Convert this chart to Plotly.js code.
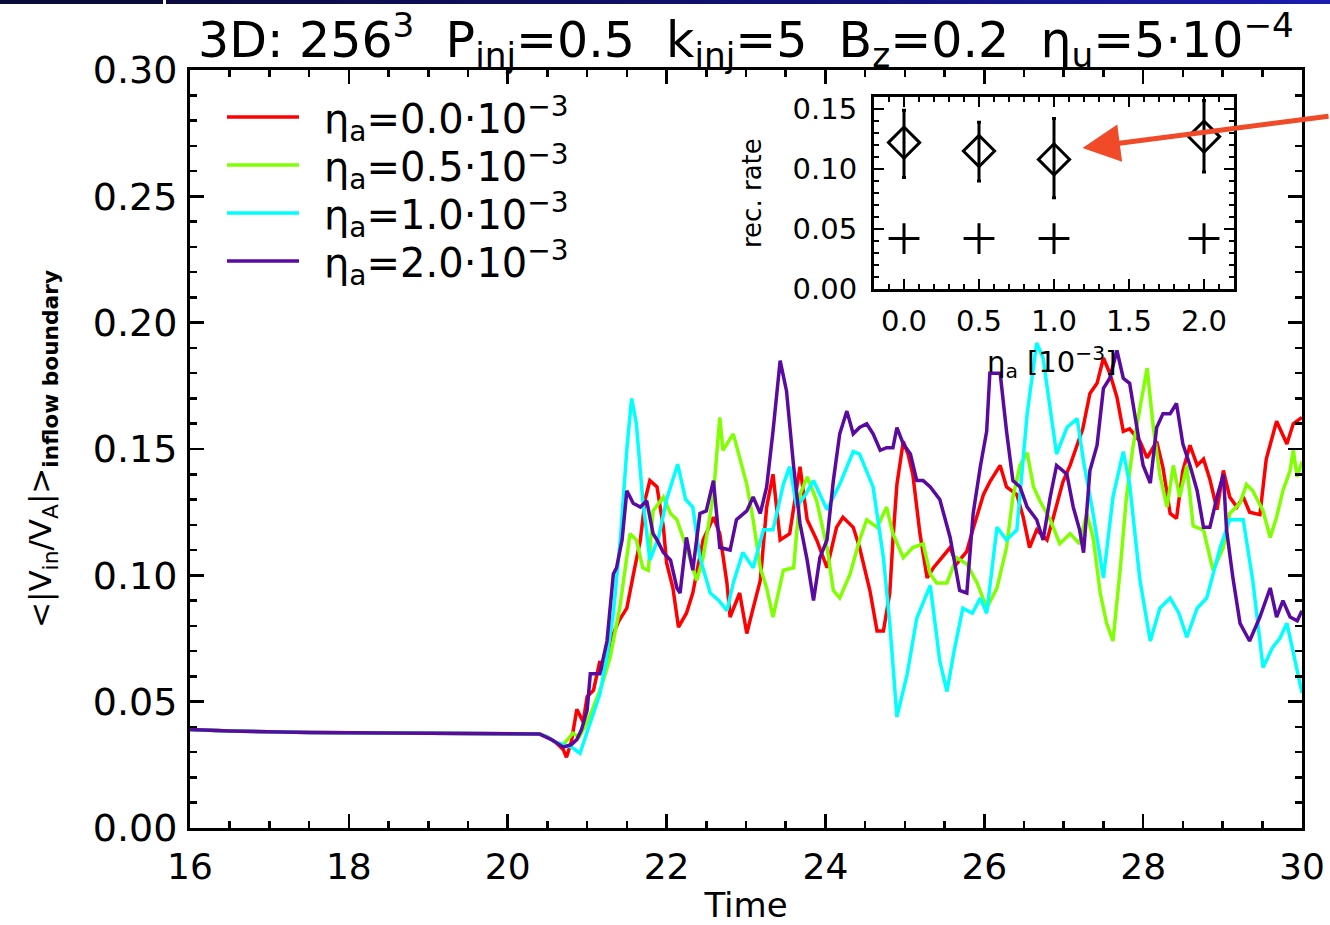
<!DOCTYPE html>
<html>
<head>
<meta charset="utf-8">
<script src="https://cdn.plot.ly/plotly-3.0.1.min.js"></script>
<style>
html,body{margin:0;padding:0;background:#fff;overflow:hidden;}
#chart{position:absolute;left:0;top:0;width:1330px;height:925px;}
#bar1{position:absolute;left:0;top:0;width:163px;height:4px;background:#0b0b38;z-index:5;}
#bar2{position:absolute;left:166px;top:0;width:1164px;height:4px;background:linear-gradient(to right,#0b0b40,#12127a 60%,#1c1cb0);z-index:5;}
</style>
</head>
<body>
<div id="chart"></div>
<div id="bar1"></div>
<div id="bar2"></div>
<script>
// ---------- data ----------
const flatT = [16, 16.5, 17.5, 19, 20, 20.4];
const flatV = [0.039, 0.0384, 0.0378, 0.0375, 0.0373, 0.0372];

const redT = [20.5,20.6,20.7,20.74,20.8,20.87,20.95,21.0,21.08,21.16,21.22,21.29,21.4,21.5,21.58,21.67,21.73,21.79,21.88,21.96,22.0,22.08,22.15,22.25,22.33,22.46,22.59,22.67,22.76,22.8,22.92,23.01,23.09,23.18,23.26,23.34,23.43,23.55,23.68,23.77,23.89,24.02,24.14,24.22,24.35,24.43,24.56,24.65,24.73,24.81,24.85,24.9,24.98,25.04,25.1,25.19,25.28,25.36,25.44,25.57,25.65,25.78,25.86,25.99,26.07,26.2,26.28,26.41,26.49,26.57,26.66,26.79,26.87,26.99,27.08,27.17,27.24,27.33,27.42,27.5,27.58,27.67,27.75,27.83,27.96,28.05,28.17,28.25,28.34,28.42,28.5,28.59,28.68,28.76,28.84,28.93,29.01,29.09,29.18,29.26,29.34,29.47,29.55,29.68,29.81,29.89,30.0];
const redV = [0.036,0.034,0.031,0.028,0.034,0.047,0.042,0.052,0.0545,0.066,0.062,0.074,0.082,0.087,0.1,0.114,0.13,0.1375,0.135,0.119,0.105,0.095,0.0795,0.085,0.093,0.114,0.123,0.1165,0.097,0.0835,0.093,0.077,0.087,0.098,0.127,0.14,0.114,0.1165,0.143,0.122,0.114,0.103,0.119,0.123,0.119,0.111,0.094,0.078,0.078,0.093,0.114,0.136,0.153,0.148,0.14,0.1165,0.099,0.103,0.106,0.111,0.1045,0.1095,0.1185,0.132,0.137,0.1435,0.135,0.132,0.123,0.111,0.118,0.114,0.123,0.137,0.1435,0.1515,0.158,0.172,0.176,0.186,0.18,0.1705,0.157,0.158,0.153,0.1465,0.153,0.1425,0.1245,0.1225,0.1415,0.1515,0.1435,0.146,0.138,0.126,0.1415,0.131,0.127,0.131,0.125,0.124,0.146,0.161,0.152,0.16,0.1625];

const greenT = [20.5,20.6,20.7,20.82,20.9,21.0,21.08,21.18,21.29,21.41,21.54,21.62,21.7,21.77,21.83,21.96,22.05,22.13,22.25,22.38,22.46,22.59,22.67,22.71,22.84,22.92,23.01,23.09,23.18,23.26,23.34,23.47,23.6,23.68,23.77,23.89,24.02,24.1,24.18,24.31,24.43,24.52,24.65,24.77,24.85,24.98,25.1,25.23,25.32,25.4,25.53,25.65,25.78,25.91,26.03,26.16,26.28,26.36,26.45,26.54,26.62,26.7,26.83,26.95,27.08,27.2,27.29,27.37,27.46,27.54,27.62,27.71,27.79,27.87,27.96,28.05,28.13,28.21,28.3,28.38,28.46,28.55,28.63,28.76,28.88,29.01,29.09,29.22,29.3,29.38,29.51,29.6,29.68,29.76,29.85,29.89,29.94,30.0];
const greenV = [0.036,0.034,0.033,0.0375,0.036,0.042,0.048,0.056,0.0675,0.087,0.1165,0.114,0.103,0.102,0.1255,0.131,0.1245,0.122,0.111,0.098,0.107,0.132,0.1625,0.1495,0.156,0.1465,0.136,0.122,0.103,0.095,0.0835,0.102,0.103,0.132,0.139,0.1295,0.111,0.094,0.091,0.1005,0.114,0.122,0.119,0.127,0.1165,0.107,0.111,0.1125,0.1005,0.097,0.097,0.107,0.1045,0.097,0.087,0.095,0.111,0.131,0.1435,0.1485,0.135,0.1295,0.122,0.1125,0.1165,0.1125,0.1245,0.115,0.093,0.081,0.074,0.102,0.131,0.1505,0.1665,0.182,0.158,0.14,0.127,0.1435,0.131,0.1435,0.1195,0.118,0.102,0.111,0.1245,0.1285,0.136,0.1335,0.1255,0.115,0.123,0.1335,0.1415,0.1495,0.139,0.145];

const cyanT = [20.5,20.6,20.7,20.8,20.91,21.0,21.04,21.16,21.25,21.33,21.42,21.5,21.56,21.62,21.7,21.79,21.9,22.0,22.14,22.24,22.33,22.42,22.55,22.66,22.76,22.84,22.96,23.09,23.22,23.34,23.47,23.55,23.64,23.75,23.85,24.02,24.18,24.35,24.43,24.6,24.73,24.81,24.9,25.03,25.15,25.32,25.44,25.53,25.62,25.73,25.85,25.95,26.03,26.16,26.28,26.41,26.54,26.66,26.74,26.91,27.04,27.17,27.25,27.37,27.5,27.62,27.75,27.83,27.96,28.09,28.21,28.34,28.45,28.55,28.68,28.8,28.97,29.09,29.26,29.38,29.51,29.63,29.72,29.81,29.9,30.0];
const cyanV = [0.036,0.034,0.033,0.032,0.0296,0.038,0.0415,0.053,0.068,0.085,0.115,0.15,0.17,0.16,0.13,0.106,0.115,0.13,0.144,0.13,0.127,0.107,0.093,0.09,0.086,0.097,0.109,0.103,0.118,0.118,0.136,0.143,0.127,0.132,0.1375,0.126,0.136,0.149,0.148,0.135,0.107,0.081,0.044,0.061,0.083,0.096,0.066,0.054,0.07,0.087,0.085,0.091,0.085,0.119,0.114,0.118,0.164,0.192,0.186,0.148,0.1585,0.162,0.145,0.1245,0.099,0.131,0.149,0.136,0.098,0.074,0.087,0.091,0.085,0.0755,0.087,0.091,0.111,0.122,0.122,0.098,0.0635,0.0715,0.075,0.081,0.068,0.0535];

const purpleT = [20.55,20.7,20.8,20.87,20.93,21.0,21.04,21.16,21.25,21.33,21.37,21.44,21.5,21.58,21.67,21.75,21.83,21.88,21.96,22.05,22.13,22.17,22.25,22.33,22.42,22.5,22.59,22.67,22.8,22.88,23.01,23.09,23.18,23.26,23.34,23.43,23.51,23.6,23.68,23.77,23.85,23.93,24.02,24.1,24.18,24.27,24.35,24.43,24.52,24.6,24.69,24.77,24.85,24.9,24.98,25.07,25.15,25.23,25.32,25.44,25.57,25.69,25.78,25.86,25.95,26.03,26.07,26.2,26.28,26.36,26.45,26.54,26.66,26.74,26.83,26.91,27.04,27.12,27.2,27.25,27.33,27.42,27.5,27.58,27.67,27.75,27.83,27.92,28.0,28.09,28.17,28.25,28.34,28.42,28.5,28.59,28.68,28.76,28.84,28.93,29.01,29.05,29.13,29.22,29.34,29.47,29.51,29.6,29.68,29.76,29.85,29.94,30.0];
const purpleV = [0.035,0.032,0.033,0.035,0.039,0.0466,0.061,0.061,0.074,0.1005,0.103,0.114,0.1335,0.1285,0.127,0.1295,0.1165,0.114,0.109,0.106,0.095,0.093,0.115,0.102,0.1245,0.1255,0.1375,0.111,0.11,0.122,0.1255,0.131,0.1245,0.135,0.157,0.185,0.173,0.143,0.1205,0.106,0.09,0.107,0.114,0.1375,0.156,0.165,0.156,0.1585,0.16,0.156,0.1495,0.1505,0.1505,0.1585,0.152,0.148,0.1375,0.1375,0.135,0.13,0.115,0.094,0.093,0.1245,0.143,0.157,0.18,0.18,0.157,0.1375,0.135,0.127,0.122,0.114,0.131,0.1435,0.14,0.127,0.118,0.109,0.1415,0.1515,0.174,0.178,0.189,0.178,0.176,0.1585,0.1435,0.1365,0.1585,0.164,0.164,0.168,0.152,0.1435,0.1335,0.119,0.119,0.131,0.14,0.118,0.099,0.081,0.074,0.0835,0.087,0.095,0.0835,0.09,0.0835,0.082,0.086];

const seriesNames = ['\u03b7a=0.0\u00b710-3','\u03b7a=0.5\u00b710-3','\u03b7a=1.0\u00b710-3','\u03b7a=2.0\u00b710-3'];
const legendLabels = ['0.0','0.5','1.0','2.0'];
const seriesColors = ['#ff0000','#80ff00','#00ffff','#5a0aa0'];

// inset: reconnection rate vs eta_a
const insetEta = [0.0, 0.5, 1.0, 2.0];
const insetRate = [0.122, 0.115, 0.108, 0.127];
const insetErrUp = [0.027, 0.024, 0.034, 0.030];
const insetErrDown = [0.029, 0.025, 0.032, 0.0295];
const insetCross = [0.042, 0.042, 0.042, 0.042];

const xTickStep = 2;
const yTickStep = 0.05;
const insetXTicks = [0, 0.5, 1.0, 1.5, 2.0];

// ---------- build ----------
const FONT = 'DejaVu Sans, Liberation Sans, Arial, sans-serif';
const seriesT = [redT, greenT, cyanT, purpleT];
const seriesV = [redV, greenV, cyanV, purpleV];

const traces = seriesT.map((t, i) => ({
  x: flatT.concat(t),
  y: flatV.concat(seriesV[i]),
  type: 'scatter', mode: 'lines', name: seriesNames[i],
  line: {color: seriesColors[i], width: 3.5},
  xaxis: 'x', yaxis: 'y', showlegend: false, hoverinfo: 'x+y'
}));

traces.push({
  x: insetEta, y: insetRate, type: 'scatter', mode: 'markers',
  xaxis: 'x2', yaxis: 'y2', showlegend: false, name: 'rec. rate',
  marker: {symbol: 'diamond-open', size: 24, color: '#000', line: {width: 3, color: '#000'}},
  error_y: {type: 'data', symmetric: false, array: insetErrUp, arrayminus: insetErrDown,
            color: '#000', thickness: 3, width: 2}
});
traces.push({
  x: insetEta, y: insetCross, type: 'scatter', mode: 'markers',
  xaxis: 'x2', yaxis: 'y2', showlegend: false, name: 'cross',
  marker: {symbol: 'cross-thin-open', size: 22, color: '#000', line: {width: 3, color: '#000'}}
});

// pixel helpers for paper coords (plot area 190..1302 x 70..828)
const L = 190, R = 1302, T = 70, B = 828;
const px = v => (v - L) / (R - L);
const py = v => (B - v) / (B - T);

const legendY = [117, 165, 213, 261];
const shapes = [];
const annotations = [];
legendLabels.forEach((lab, i) => {
  shapes.push({type: 'line', xref: 'paper', yref: 'paper',
    x0: px(227), x1: px(299), y0: py(legendY[i]), y1: py(legendY[i]),
    line: {color: seriesColors[i], width: 3.5}});
  annotations.push({xref: 'paper', yref: 'paper', x: px(322), y: py(legendY[i] + 2),
    xanchor: 'left', yanchor: 'middle', showarrow: false,
    text: '\u03b7<sub>a</sub>=' + lab + '\u00b710<sup>\u22123</sup>',
    font: {family: FONT, size: 40, color: '#000'}});
});

// inset axis titles
annotations.push({xref: 'paper', yref: 'paper', x: px(752), y: py(193), textangle: -90,
  xanchor: 'center', yanchor: 'middle', showarrow: false, text: 'rec. rate',
  font: {family: FONT, size: 26, color: '#000'}});
annotations.push({xref: 'paper', yref: 'paper', x: px(1052), y: py(362),
  xanchor: 'center', yanchor: 'middle', showarrow: false, text: '\u03b7<sub>a</sub> [10<sup>\u22123</sup>]',
  font: {family: FONT, size: 29, color: '#000'}});

// arrow pointing to the inset point
annotations.push({
  xref: 'x2', yref: 'y2', x: 1.19, y: 0.1175, text: '', showarrow: true,
  axref: 'pixel', ayref: 'pixel', ax: 250, ay: -32,
  arrowcolor: '#f04a28', arrowwidth: 5, arrowhead: 2, arrowsize: 1.5, standoff: 0
});

const sp = '\u00a0';
const layout = {
  width: 1330, height: 925,
  margin: {l: L, r: 1330 - R, t: T, b: 925 - B},
  paper_bgcolor: '#fff', plot_bgcolor: '#fff',
  font: {family: FONT, color: '#000'},
  title: {
    text: '3D:' + sp + '256<sup>3</sup>' + sp + sp + 'P<sub>inj</sub>=0.5' + sp + sp + 'k<sub>inj</sub>=5' + sp + sp +
          'B<sub>z</sub>=0.2' + sp + sp + '\u03b7<sub>u</sub>=5\u00b710<sup>\u22124</sup>',
    font: {family: FONT, size: 49, color: '#000'},
    x: 746 / 1330, xanchor: 'center', xref: 'container',
    y: 1 - 40 / 925, yanchor: 'middle', yref: 'container'
  },
  xaxis: {
    domain: [0, 1], range: [16, 30], tick0: 16, dtick: xTickStep,
    ticks: 'inside', ticklen: 14, tickwidth: 2.5, tickcolor: '#000',
    minor: {dtick: 0.5, ticks: 'inside', ticklen: 7, tickwidth: 2.5, tickcolor: '#000', showgrid: false},
    showline: true, linewidth: 3, linecolor: '#000', mirror: 'ticks',
    showgrid: false, zeroline: false,
    tickfont: {family: FONT, size: 36, color: '#000'}, ticklabelstandoff: 5,
    title: {text: 'Time', font: {family: FONT, size: 34, color: '#000'}, standoff: 16}
  },
  yaxis: {
    domain: [0, 1], range: [0, 0.30], tick0: 0, dtick: yTickStep, tickformat: '.2f',
    ticks: 'inside', ticklen: 14, tickwidth: 2.5, tickcolor: '#000',
    minor: {dtick: 0.01, ticks: 'inside', ticklen: 7, tickwidth: 2.5, tickcolor: '#000', showgrid: false},
    showline: true, linewidth: 3, linecolor: '#000', mirror: 'ticks',
    showgrid: false, zeroline: false,
    tickfont: {family: FONT, size: 38, color: '#000'}, ticklabelstandoff: 2,
    title: {text: '&lt;|V<sub>in</sub>/V<sub>A</sub>|&gt;<sub><b>inflow boundary</b></sub>',
            font: {family: FONT, size: 31, color: '#000'}, standoff: 32}
  },
  xaxis2: {
    domain: [px(874), px(1234)], anchor: 'y2', range: [-0.2, 2.2],
    tickvals: insetXTicks, tickformat: '.1f',
    ticks: 'inside', ticklen: 10, tickwidth: 2.5, tickcolor: '#000',
    minor: {dtick: 0.1, ticks: 'inside', ticklen: 5, tickwidth: 2, tickcolor: '#000', showgrid: false},
    showline: true, linewidth: 3, linecolor: '#000', mirror: 'ticks',
    showgrid: false, zeroline: false,
    tickfont: {family: FONT, size: 29, color: '#000'}, ticklabelstandoff: 4
  },
  yaxis2: {
    domain: [py(289), py(97)], anchor: 'x2', range: [0, 0.16], tick0: 0, dtick: 0.05, tickformat: '.2f',
    ticks: 'inside', ticklen: 10, tickwidth: 2.5, tickcolor: '#000',
    minor: {dtick: 0.01, ticks: 'inside', ticklen: 5, tickwidth: 2, tickcolor: '#000', showgrid: false},
    showline: true, linewidth: 3, linecolor: '#000', mirror: 'ticks',
    showgrid: false, zeroline: false,
    tickfont: {family: FONT, size: 29, color: '#000'}, ticklabelstandoff: 8
  },
  shapes: shapes,
  annotations: annotations,
  showlegend: false
};

Plotly.newPlot('chart', traces, layout, {staticPlot: true, displayModeBar: false});
</script>
</body>
</html>
